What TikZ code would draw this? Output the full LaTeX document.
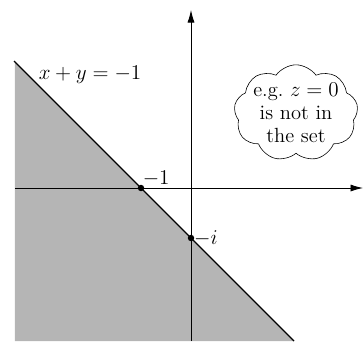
\documentclass[tikz,border=0pt]{standalone}
\usetikzlibrary{arrows.meta,shapes.symbols}

\begin{document}
\begin{tikzpicture}[x=1.2cm,y=1.2cm,>={Latex[length=3mm,width=1.7mm]},font=\fontsize{14}{15.5}\selectfont]
  \useasboundingbox (-3.82,-3.06) rectangle (3.44,3.76);
  % half-plane x+y<-1
  \fill[black!29] (-3.52,2.52) -- (2.06,-3.06) -- (-3.52,-3.06) -- cycle;
  \draw[thick] (-3.54,2.54) -- (2.06,-3.06);
  % axes
  \coordinate (xl) at (-3.52,0);
  \coordinate (xr) at (3.44,0);
  \coordinate (yb) at (0,-3.06);
  \coordinate (yt) at (0,3.56);
  \draw[->,semithick] (xl) -- (xr);
  \draw[->,semithick] (yb) -- (yt);
  \fill (-1,0) coordinate (m1) circle (2.2pt);
  \fill (0,-1) coordinate (mi) circle (2.2pt);
  \node[above right,inner sep=1pt] (lm1) at (m1) {$-1$};
  \node[right,inner sep=2pt] (lmi) at (mi) {$-i$};
  \node (line) at (-2.02,2.26) {$x+y=-1$};
  \node[cloud,draw,cloud puffs=9,cloud puff arc=110,aspect=1.45,inner sep=-1pt,align=center] (note) at (2.1,1.5) {e.g.\ $z=0$\\is not in\\the set};
\end{tikzpicture}
\end{document}
